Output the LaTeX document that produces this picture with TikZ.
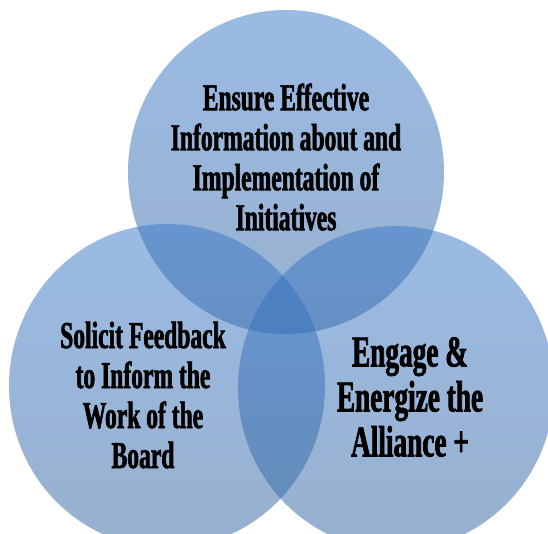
\documentclass[tikz,border=0pt]{standalone}
\usepackage{fontspec}
\usetikzlibrary{shapes.geometric}
\newfontfamily\vennfont[FakeStretch=0.62,FakeBold=1.6]{Liberation Serif}
\definecolor{venntop}{RGB}{55,119,201}
\definecolor{vennbot}{RGB}{48,98,158}

\begin{document}
\begin{tikzpicture}[
    x=1pt, y=-1pt,
    venn/.style={
      ellipse,
      draw=none,
      minimum width=316pt,
      minimum height=324pt,
      top color=venntop,
      bottom color=vennbot,
      fill opacity=0.5
    },
    vtext/.style={
      align=center,
      inner sep=0pt,
      font=\vennfont\bfseries\fontsize{38pt}{40pt}\selectfont
    }
  ]
    \clip (0,0) rectangle (548,533);
    %% Circles
    \node[venn] (c-top) at (286,172) {};
    \node[venn] (c-left) at (167,386) {};
    \node[venn] (c-right) at (396,388) {};
    %% Texts
    \node[vtext] (t-top) at (286,157) {Ensure Effective\\
      Information about and\\
      Implementation of\\
      Initiatives};
    \node[vtext] (t-left) at (143,395) {Solicit Feedback\\
      to Inform the\\
      Work of the\\
      Board};
    \node[vtext, font=\vennfont\bfseries\fontsize{44pt}{45pt}\selectfont]
      (t-right) at (410,397) {Engage \&\\
      Energize the\\
      Alliance +};
  \end{tikzpicture}
\end{document}
